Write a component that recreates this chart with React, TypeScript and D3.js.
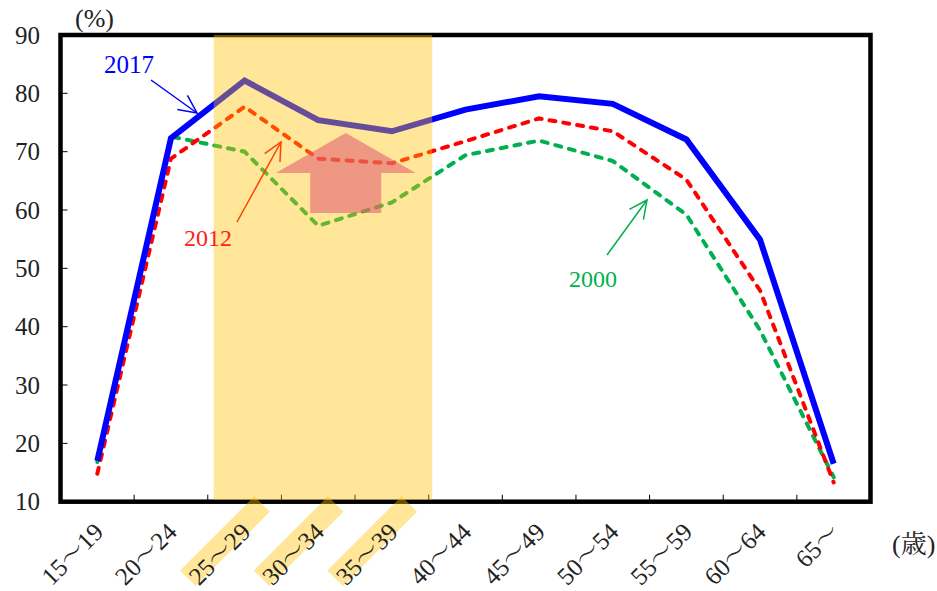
import React from "react";
import * as d3 from "d3";

const categories = ["15〜19", "20〜24", "25〜29", "30〜34", "35〜39", "40〜44", "45〜49", "50〜54", "55〜59", "60〜64", "65〜"];
const values2017 = [17.0, 72.3, 82.2, 75.4, 73.5, 77.2, 79.5, 78.2, 72.1, 54.9, 16.5];
const values2012 = [14.8, 68.8, 77.7, 68.8, 68.0, 71.8, 75.7, 73.5, 65.2, 46.2, 13.3];
const values2000 = [16.8, 72.6, 70.0, 57.3, 61.3, 69.4, 71.9, 68.4, 59.2, 39.4, 14.2];
const yTicks = [10, 20, 30, 40, 50, 60, 70, 80, 90];
const highlighted = ["25〜29", "30〜34", "35〜39"];

const W = 937;
const H = 591;
const L = 60.5, R = 870.5, T = 35, B = 501.7;
const FONT = "'Liberation Serif', 'Noto Serif CJK JP', 'Noto Sans CJK JP', serif";
const HL = "rgba(255,192,0,0.4)";

function arrowHead(x1: number, y1: number, x2: number, y2: number, len = 20, ang = 0.45) {
  const a = Math.atan2(y2 - y1, x2 - x1);
  const p1 = [x2 - len * Math.cos(a - ang), y2 - len * Math.sin(a - ang)];
  const p2 = [x2 - len * Math.cos(a + ang), y2 - len * Math.sin(a + ang)];
  return `M${p1[0]},${p1[1]}L${x2},${y2}L${p2[0]},${p2[1]}`;
}

export default function App() {
  const x = d3.scaleBand<string>().domain(categories).range([L, R]).padding(0);
  const y = d3.scaleLinear().domain([10, 90]).range([B, T]);
  const cx = (c: string) => (x(c) as number) + x.bandwidth() / 2;
  const line = d3.line<number>().x((_, i) => cx(categories[i])).y((v) => y(v));

  const hlStart = (x("25〜29") as number) + 6;
  const hlEnd = (x("35〜39") as number) + x.bandwidth() + 3.5;

  // pink arrow (up)
  const ax = cx("30〜34") + 27.5;
  const tipY = y(73.2), headY = y(66.35), botY = y(59.5);
  const headHalf = 70, shaftHalf = 35.5;
  const bigArrow = `M${ax},${tipY}L${ax + headHalf},${headY}L${ax + shaftHalf},${headY}L${ax + shaftHalf},${botY}L${ax - shaftHalf},${botY}L${ax - shaftHalf},${headY}L${ax - headHalf},${headY}Z`;

  return (
    <svg width={W} height={H} style={{ position: "absolute", left: 0, top: 0, background: "#fff" }} fontFamily={FONT}>
      <rect x={0} y={0} width={W} height={H} fill="#fff" />
      {/* lines */}
      <path d={line(values2000) || ""} fill="none" stroke="#00B050" strokeWidth={4} strokeDasharray="6,8" strokeLinecap="round" />
      <path d={line(values2012) || ""} fill="none" stroke="#FF0000" strokeWidth={4} strokeDasharray="6,8" strokeLinecap="round" />
      <path d={line(values2017) || ""} fill="none" stroke="#0000FF" strokeWidth={6} strokeLinejoin="miter" />

      {/* frame */}
      <rect x={L} y={T} width={R - L} height={B - T} fill="none" stroke="#000" strokeWidth={4.5} />
      {yTicks.map((t) => (
        <g key={t}>
          <line x1={L} x2={L + 7} y1={y(t)} y2={y(t)} stroke="#000" strokeWidth={1} />
          <text x={40} y={y(t)} dy="0.35em" textAnchor="end" fontSize={25} fill="#222">{t}</text>
        </g>
      ))}
      {categories.slice(1).map((c) => (
        <line key={c} x1={x(c) as number} x2={x(c) as number} y1={B} y2={B - 7} stroke="#000" strokeWidth={1} />
      ))}

      {/* highlight band */}
      <rect x={hlStart} y={T} width={hlEnd - hlStart} height={B - 2 - T} fill={HL} />

      {/* big arrow */}
      <path d={bigArrow} fill="rgba(224,85,111,0.55)" />

      {/* x labels */}
      {categories.map((c) => (
        <g key={c} transform={`translate(${cx(c) + 17.5},${B + 2.3}) rotate(-45)`}>
          {highlighted.includes(c) && <rect x={-105} y={-11} width={105} height={22} fill={HL} />}
          <text x={-28} y={5} dy="0.35em" textAnchor="end" fontSize={25} fill="#222">{c}</text>
        </g>
      ))}

      {/* annotations */}
      <text x={104} y={73} fontSize={25} fill="#0000FF">2017</text>
      <line x1={151} y1={80} x2={197} y2={113} stroke="#0000FF" strokeWidth={1.5} />
      <path d={arrowHead(151, 80, 197, 113)} fill="none" stroke="#0000FF" strokeWidth={1.5} />

      <text x={184} y={246} fontSize={24} fill="#FF2020">2012</text>
      <line x1={237} y1={222} x2={281} y2={142} stroke="#FF4000" strokeWidth={1.5} />
      <path d={arrowHead(237, 222, 281, 142)} fill="none" stroke="#FF4000" strokeWidth={1.5} />

      <text x={569} y={287} fontSize={24} fill="#00B050">2000</text>
      <line x1={607} y1={255} x2={647} y2={200} stroke="#00B050" strokeWidth={1.5} />
      <path d={arrowHead(607, 255, 647, 200)} fill="none" stroke="#00B050" strokeWidth={1.5} />

      <text x={75} y={27} fontSize={26} fill="#222">(%)</text>
      <text x={892} y={553} fontSize={26} fill="#222">(歳)</text>
    </svg>
  );
}
